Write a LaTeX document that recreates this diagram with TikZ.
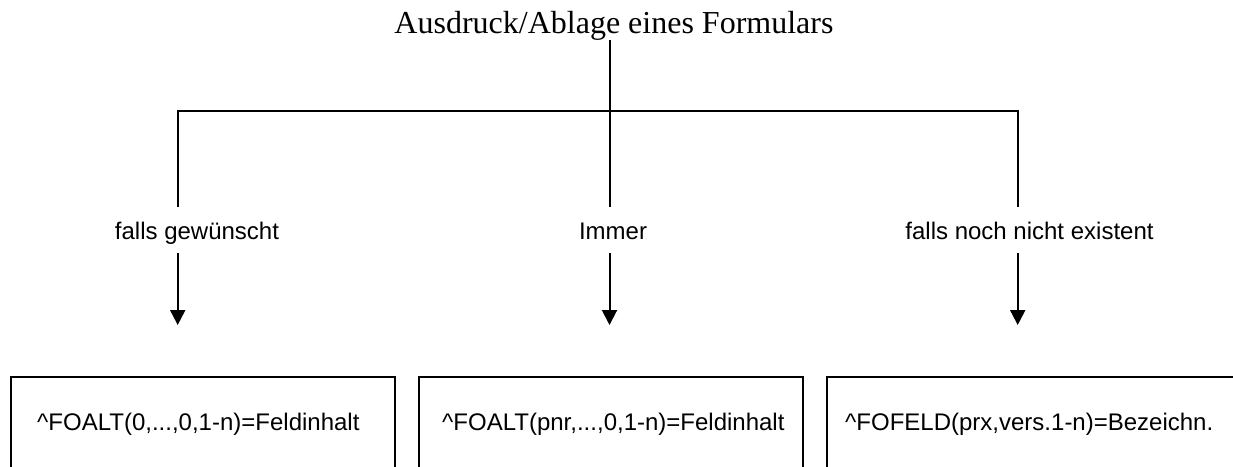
\documentclass[tikz,border=0pt]{standalone}
\usepackage{fontspec}
\setmainfont{Liberation Serif}
\setsansfont{Liberation Sans}
\usetikzlibrary{arrows.meta,calc}
\begin{document}
\begin{tikzpicture}[x=1pt,y=-1pt,
  line/.style={line width=2pt},
  arr/.style={line width=2pt,-{Triangle[length=15pt,width=15pt]}},
  titletext/.style={font=\fontsize{32}{36}\selectfont\rmfamily,inner sep=0pt,anchor=base},
  labeltext/.style={font=\fontsize{24}{28}\selectfont\sffamily,inner sep=0pt,anchor=base},
  boxnode/.style={draw,line width=2pt,anchor=north west,minimum height=94pt,inner sep=0pt},
  boxtext/.style={font=\fontsize{24}{28}\selectfont\sffamily,inner sep=0pt,anchor=base west}]
\useasboundingbox (0,0) rectangle (1233,466);
\clip (0,0) rectangle (1233,466);
\fill[white] (0,0) rectangle (1233,466);
% title
\node[titletext] (title) at (614,33) {Ausdruck/Ablage eines Formulars};
\coordinate (j) at (609.5,111);
\draw[line] (title.south -| j) -- (j);
% branch tops
\coordinate (c1) at (177.7,207);
\coordinate (c2) at (609.5,207);
\coordinate (c3) at (1017.7,207);
\draw[line] (c1) |- (j) -| (c3);
\draw[line] (j) -- (c2);
% labels
\node[labeltext] (l1) at (197,239.3) {falls gewünscht};
\node[labeltext] (l2) at (613,239.3) {Immer};
\node[labeltext] (l3) at (1029.5,239.3) {falls noch nicht existent};
% arrows
\coordinate (a1) at (177.7,253);
\coordinate (a2) at (609.5,253);
\coordinate (a3) at (1017.7,253);
\coordinate (t1) at (177.7,325);
\coordinate (t2) at (609.5,325);
\coordinate (t3) at (1017.7,325);
\draw[arr] (a1) -- (t1);
\draw[arr] (a2) -- (t2);
\draw[arr] (a3) -- (t3);
% boxes
\node[boxnode,minimum width=384pt] (b1) at (10,376) {};
\node[boxnode,minimum width=384pt] (b2) at (418,376) {};
\node[boxnode,minimum width=440pt] (b3) at (826,376) {};
\node[boxtext] (x1) at ($(b1.north west)+(27,54)$) {\textasciicircum FOALT(0,...,0,1-n)=Feldinhalt};
\node[boxtext] (x2) at ($(b2.north west)+(24,54)$) {\textasciicircum FOALT(pnr,...,0,1-n)=Feldinhalt};
\node[boxtext] (x3) at ($(b3.north west)+(19,54)$) {\textasciicircum FOFELD(prx,vers.1-n)=Bezeichn.};
\end{tikzpicture}
\end{document}
